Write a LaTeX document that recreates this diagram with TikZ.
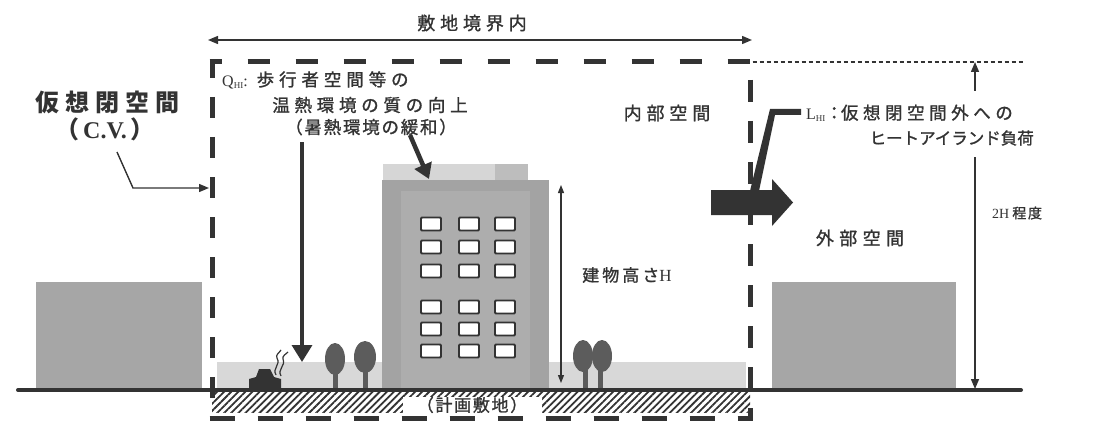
\documentclass[tikz,border=0pt]{standalone}
\usepackage{fontspec}
\setmainfont{Liberation Serif}
\newfontfamily\jp[FakeBold=1.2]{Noto Sans CJK JP}
\newfontfamily\jpb{Noto Sans CJK JP}
\usetikzlibrary{arrows.meta,patterns.meta}
% Japanese text at a given size with extra letter spacing
\newcommand\jpt[2]{\jp\fontsize{#1pt}{#1pt}\selectfont\addfontfeatures{LetterSpace=#2}}
\newcommand\lat[1]{\fontsize{#1pt}{#1pt}\selectfont}
\definecolor{ink}{HTML}{333333}
\definecolor{blockgray}{HTML}{A6A6A6}
\definecolor{stripgray}{HTML}{D8D8D8}
\definecolor{bldgout}{HTML}{A3A3A3}
\definecolor{bldgin}{HTML}{ADADAD}
\definecolor{rooflight}{HTML}{D6D6D6}
\definecolor{roofdark}{HTML}{BDBDBD}
\definecolor{treegray}{HTML}{5C5C5C}
\tikzset{
  lbl/.style={inner sep=0pt, text=ink},
  cvline/.style={draw=ink, line width=5pt},
  dimarrow/.style={draw=ink, line width=1.4pt, -{Triangle[length=10pt,width=8pt]}},
  fatarrow/.style={draw=ink, line width=3.5pt, -{Triangle[length=17pt,width=20pt]}},
  win/.style={draw=ink, line width=1.8pt, fill=white, rounded corners=1pt},
  tree/.style={fill=treegray},
}
\begin{document}
\begin{tikzpicture}[x=1pt,y=-1pt]
\useasboundingbox[fill=white] (0,0) rectangle (1105,425);

% ground strip and neighbouring blocks
\fill[stripgray] (217,362) rectangle (746,390);
\fill[blockgray] (36,282) rectangle (202,390);
\fill[blockgray] (772,282) rectangle (956,390);

% main building with roof
\fill[rooflight] (383,164) rectangle (528,181);
\fill[roofdark] (495,164) rectangle (528,181);
\fill[bldgout] (382,180) rectangle (549,390);
\fill[bldgin] (401,191) rectangle (530,390);
\foreach \r in {224,247,271,307,329,351}{
  \foreach \c in {431,469,505}{
    \draw[win] (\c-10,\r-6.5) rectangle (\c+10,\r+6.5);
  }
}

% trees
\fill[tree] (333,370) rectangle (338,390);
\fill[tree] (335,359) ellipse [x radius=10, y radius=16];
\fill[tree] (363,368) rectangle (368,390);
\fill[tree] (365,357) ellipse [x radius=11, y radius=16];
\fill[tree] (583,366) rectangle (588,390);
\fill[tree] (598,366) rectangle (603,390);
\fill[tree] (583,356) ellipse [x radius=10, y radius=16];
\fill[tree] (602,356) ellipse [x radius=10, y radius=16];

% car with heat waves
\fill[ink] (249,389) -- (249,379) -- (256,377) -- (259,369) -- (270,369) -- (274,377) -- (281,379) -- (281,389) -- cycle;
\draw[ink, line width=1.2pt] (276,375) .. controls (272,368) and (281,365) .. (277,358) .. controls (275,355) and (280,352) .. (281,350);
\draw[ink, line width=1.2pt] (281,376) .. controls (277,369) and (286,366) .. (283,359) .. controls (282,356) and (286,354) .. (288,352);

% hatched site below ground
\fill[pattern={Lines[angle=45,distance=5pt,line width=1.8pt]}, pattern color=ink] (212,392) rectangle (750,412);
\node[lbl, fill=white, minimum width=139pt, minimum height=16pt] (site) at (472,405)
  {\jpt{17}{10}（計画敷地）};

% ground line
\coordinate (gL) at (18,390);
\coordinate (gR) at (1021,390);
\draw[ink, line width=4pt, line cap=round] (gL) -- (gR);

% virtual closed space boundary
\coordinate (cvTL) at (212,62);
\coordinate (cvTR) at (750,62);
\coordinate (cvBL) at (212,418);
\coordinate (cvBR) at (750,418);
\draw[cvline, dash pattern=on 22pt off 26pt, dash phase=10pt] ([xshift=-2.5pt]cvTL) -- ([xshift=2.5pt]cvTR);
\draw[cvline, dash pattern=on 21pt off 19pt, dash phase=5pt] (cvTL) -- (cvBL);
\draw[cvline, dash pattern=on 22pt off 19pt, dash phase=23pt] (cvTR) -- (cvBR);
\draw[cvline, dash pattern=on 25pt off 23pt] ([xshift=-2.5pt]cvBL) -- ([xshift=2.5pt]cvBR);
\coordinate (dotEnd) at (1024,62);
\draw[ink, line width=1.3pt, dash pattern=on 4pt off 3pt] ([xshift=2.5pt]cvTR) -- (dotEnd);

% site boundary extent
\coordinate (siteL) at (208,40);
\coordinate (siteR) at (752,40);
\draw[dimarrow, {Triangle[length=10pt,width=8pt]}-{Triangle[length=10pt,width=8pt]}] (siteL) -- (siteR);
\node[lbl] (sitelbl) at (472,23) {\jpt{18}{27}敷地境界内};

% left labels
\node[lbl] (cvname) at (107,102) {\jpb\fontsize{24pt}{24pt}\selectfont\addfontfeatures{LetterSpace=25}\bfseries 仮想閉空間};
\node[lbl] (cvabbr) at (105,129) {\jpb\fontsize{24pt}{24pt}\selectfont\bfseries （\hspace{4pt}{\rmfamily\bfseries C.V.}\hspace{4pt}）};
\coordinate (cvA) at (117,152);
\coordinate (cvB) at (133,188);
\coordinate (cvC) at (209,188);
\draw[dimarrow] (cvA) -- (cvB) -- (cvC);

% Q_HI label and arrows
\node[lbl, anchor=west] (qline1) at (222,80)
  {\lat{16}Q\raisebox{-2pt}{\lat{9}HI}\lat{16}:\hspace{9pt}\jpt{17.5}{28}歩行者空間等の};
\node[lbl] (qline2) at (370,105) {\jpt{17.5}{27}温熱環境の質の向上};
\node[lbl] (qline3) at (371,127) {\jpt{17.5}{10}（暑熱環境の緩和）};
\coordinate (qTop) at (302,142);
\coordinate (qBot) at (302,362);
\draw[fatarrow] (qTop) -- (qBot);
\coordinate (rTop) at (410,135);
\coordinate (rBot) at (429,179);
\draw[ink, line width=4.5pt, -{Triangle[length=15pt,width=18pt]}] (rTop) -- (rBot);

% inner and outer space labels
\node[lbl] (inner) at (667,113) {\jpt{18}{27}内部空間};
\node[lbl] (outer) at (860,238) {\jpt{18}{30}外部空間};

% building height
\coordinate (hbTop) at (561,185);
\coordinate (hbBot) at (561,383);
\draw[ink, line width=1.2pt, {Triangle[length=8pt,width=6pt]}-{Triangle[length=8pt,width=6pt]}] (hbTop) -- (hbBot);
\node[lbl, anchor=west] (hlbl) at (582,275) {\jpt{17}{18}建物高さ\rmfamily\lat{17}H};

% twice the height
\coordinate (tTop) at (975,62);
\coordinate (tMid1) at (975,91);
\coordinate (tMid2) at (975,157);
\coordinate (tBot) at (975,389);
\draw[dimarrow] (tMid1) -- (tTop);
\draw[dimarrow] (tMid2) -- (tBot);
\node[lbl, anchor=west] (tlbl) at (992,213) {\lat{14}2H\hspace{3pt}\jpt{14}{12}程度};

% heat-island load out of the closed space
\fill[ink] (711,190) -- (772,190) -- (772,179) -- (793,202.5) -- (772,226) -- (772,215) -- (711,215) -- cycle;
\fill[ink] (801,109) -- (770,109) -- (750,191) -- (759,191) -- (775,115) -- (801,115) -- cycle;
\node[lbl, anchor=west] (lline1) at (806,113)
  {\lat{16}L\raisebox{-2pt}{\lat{9}HI}\jpt{17.5}{0}：\hspace{-2pt}\jpt{17.5}{26}仮想閉空間外への};
\node[lbl, anchor=east] (lline2) at (1034,138) {\jpt{16.5}{0}ヒートアイランド負荷};
\end{tikzpicture}
\end{document}
